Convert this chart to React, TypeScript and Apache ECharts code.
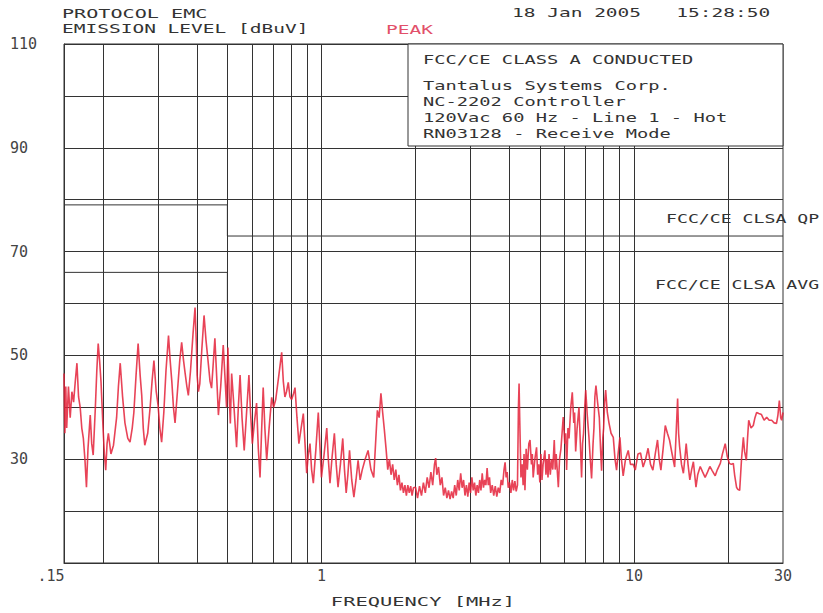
import React, { useEffect, useRef } from "react";
import * as echarts from "echarts";

// ---- data ----
const yTickLabels = [30, 50, 70, 90, 110];
const gridFreqs = [0.2, 0.3, 0.4, 0.5, 0.6, 0.7, 0.8, 0.9, 1, 2, 3, 4, 5, 6, 7, 8, 9, 10, 20];

const qpLimit: [number, number][] = [[0.15, 79], [0.5, 79], [0.5, 73], [30, 73]];
const avLimit: [number, number][] = [[0.15, 66], [0.5, 66], [0.5, 60], [30, 60]];

const traceLow: [number, number][] = [
  [0.150, 46.5], [0.151, 35], [0.152, 44], [0.153, 36], [0.155, 44], [0.157, 38], [0.159, 43], [0.161, 41],
  [0.163, 45], [0.165, 48.5], [0.167, 42], [0.169, 40], [0.171, 36], [0.173, 34], [0.175, 30], [0.177, 24.6],
  [0.179, 32], [0.182, 38.5], [0.184, 33], [0.186, 30.8], [0.189, 40], [0.191, 47], [0.193, 52.3], [0.195, 49],
  [0.197, 45], [0.200, 36], [0.202, 31], [0.204, 27.9], [0.206, 33], [0.208, 35], [0.212, 31], [0.216, 32.7],
  [0.221, 38], [0.224, 44], [0.227, 48.5], [0.231, 42], [0.235, 37], [0.240, 34], [0.244, 33.3], [0.248, 36],
  [0.251, 39], [0.255, 46], [0.259, 52.3], [0.263, 46], [0.266, 42.3], [0.269, 36], [0.272, 32.7], [0.278, 35],
  [0.283, 40], [0.287, 45], [0.291, 49], [0.296, 43], [0.300, 40.4], [0.304, 36], [0.308, 33.3], [0.313, 39],
  [0.318, 47], [0.324, 53.8], [0.328, 49], [0.332, 45], [0.336, 40], [0.340, 37], [0.346, 43], [0.352, 49],
  [0.357, 52.5], [0.362, 49], [0.366, 46.7], [0.371, 44], [0.375, 42.3], [0.381, 47], [0.388, 54], [0.394, 59.2],
  [0.398, 52], [0.400, 46.2], [0.404, 43], [0.408, 44.5], [0.414, 51], [0.421, 57.7], [0.427, 53], [0.434, 48.7],
  [0.440, 45], [0.445, 43.7], [0.450, 48], [0.456, 53.3], [0.462, 46], [0.468, 38.5], [0.476, 44],
];

const traceMid: [number, number][] = [
  [0.485, 52], [0.492, 45], [0.497, 40], [0.502, 51.5], [0.507, 42], [0.511, 36.9], [0.516, 46.5], [0.525, 40],
  [0.535, 32.3], [0.542, 40], [0.549, 46.2], [0.557, 38], [0.566, 31.7], [0.576, 39], [0.586, 46.2], [0.593, 39],
  [0.601, 33], [0.61, 37], [0.620, 40.8], [0.628, 32], [0.636, 26.5], [0.643, 35], [0.651, 43.8], [0.659, 36],
  [0.668, 29.8], [0.680, 36], [0.693, 41.9], [0.703, 40], [0.714, 41.5], [0.73, 46], [0.746, 50.6], [0.755, 45],
  [0.764, 42], [0.773, 43], [0.783, 44.8], [0.793, 42], [0.803, 41.5], [0.813, 42.5], [0.823, 43.8], [0.835, 38],
  [0.847, 33], [0.861, 36], [0.875, 38.8], [0.886, 33], [0.897, 27.3], [0.908, 31], [0.919, 33], [0.930, 28],
  [0.942, 25.4], [0.960, 32], [0.977, 39], [0.988, 33], [1.00, 26.5], [1.02, 31], [1.04, 36], [1.052, 30],
  [1.065, 25.4], [1.08, 30], [1.10, 35], [1.115, 29], [1.13, 24.6], [1.15, 29], [1.17, 34], [1.185, 28],
  [1.20, 23.5], [1.215, 27], [1.23, 31.7], [1.25, 26], [1.27, 22.7], [1.29, 26], [1.31, 29.8], [1.33, 26],
  [1.35, 27.9], [1.38, 30], [1.41, 31.7], [1.44, 28], [1.47, 26.5], [1.49, 33], [1.51, 39.4], [1.53, 38],
  [1.55, 42.7], [1.57, 39], [1.59, 35.6], [1.61, 32], [1.63, 28], [1.65, 30], [1.67, 27], [1.69, 29],
  [1.71, 26], [1.73, 28], [1.75, 25], [1.77, 27], [1.79, 24], [1.81, 25.5], [1.83, 23.5], [1.85, 25],
  [1.87, 23], [1.89, 25], [1.91, 23.5], [1.93, 24.8], [1.95, 23], [1.97, 24.5],
];

const traceHigh: [number, number][] = [
  [2.00, 24.6], [2.03, 22.5], [2.06, 24.8], [2.09, 23], [2.12, 25.5], [2.15, 23.5], [2.18, 26.5], [2.21, 24.5],
  [2.24, 27.5], [2.27, 25], [2.30, 29], [2.32, 30.2], [2.34, 27], [2.37, 28.5], [2.40, 25], [2.43, 26.5],
  [2.46, 23], [2.49, 24.5], [2.52, 22.5], [2.55, 24], [2.58, 22.3], [2.61, 23.8], [2.64, 22.5], [2.67, 25],
  [2.70, 23], [2.73, 26], [2.76, 24], [2.79, 27.3], [2.82, 24.5], [2.85, 26], [2.88, 23], [2.91, 25],
  [2.94, 22.8], [2.97, 25.5], [3.00, 23.5], [3.03, 26.5], [3.06, 24], [3.09, 25.5], [3.12, 23], [3.15, 25],
  [3.18, 23.5], [3.21, 26], [3.24, 24], [3.27, 27.3], [3.30, 24.5], [3.33, 26], [3.36, 25], [3.39, 28.3],
  [3.42, 25], [3.45, 26.5], [3.48, 23.5], [3.52, 25], [3.56, 23], [3.60, 24.8], [3.64, 22.8], [3.68, 24.5],
  [3.72, 23.5], [3.76, 26], [3.80, 25], [3.84, 28], [3.87, 29.4], [3.90, 26.5], [3.93, 27.5], [3.96, 24.5],
  [4.00, 25.5], [4.04, 23.5], [4.08, 26], [4.12, 24], [4.16, 25.8], [4.20, 23.8], [4.24, 25], [4.27, 40],
  [4.29, 44.6], [4.31, 38], [4.35, 26.5], [4.39, 29], [4.42, 25], [4.45, 31], [4.48, 24], [4.52, 32],
  [4.56, 28], [4.61, 33], [4.65, 33.7], [4.70, 29], [4.73, 31], [4.76, 26.5], [4.82, 30], [4.88, 32.3],
  [4.92, 27], [4.96, 29], [5.00, 25.5], [5.04, 31], [5.08, 26], [5.12, 29], [5.19, 31.7], [5.23, 27],
  [5.27, 30], [5.31, 26.5], [5.35, 31], [5.40, 27], [5.45, 30], [5.50, 28], [5.56, 33.7], [5.60, 28],
  [5.64, 31], [5.73, 24.6], [5.78, 30], [5.84, 32], [5.94, 38.1], [6.01, 33], [6.05, 35], [6.09, 27.9],
  [6.15, 36], [6.2, 34], [6.28, 40], [6.35, 42.9], [6.42, 37], [6.46, 39], [6.51, 31.5], [6.58, 36],
  [6.67, 40], [6.74, 33], [6.80, 26.5], [6.85, 33], [6.9, 35], [6.96, 40], [7.01, 43.3], [7.1, 38],
  [7.18, 34.2], [7.25, 30], [7.32, 26.3], [7.40, 33], [7.45, 36], [7.50, 42], [7.56, 44.2], [7.65, 41],
  [7.75, 38], [7.82, 32], [7.88, 27.8], [7.95, 34], [8.0, 36], [8.06, 41], [8.12, 43.3], [8.22, 39],
  [8.32, 37], [8.45, 35], [8.59, 34.2], [8.7, 30], [8.80, 27.9], [8.9, 31], [9.02, 34.2], [9.12, 30],
  [9.24, 26.8], [9.4, 30], [9.59, 31.7], [9.75, 29],
];

const traceTop: [number, number][] = [
  [9.95, 29], [10.1, 27.9], [10.3, 31], [10.5, 31.2], [10.7, 28.5], [10.9, 30], [11.1, 32.1], [11.3, 29],
  [11.5, 27.9], [11.7, 31], [11.9, 33.7], [12.05, 30], [12.2, 27.9], [12.4, 32], [12.6, 36.5], [12.8, 35],
  [13.0, 33.7], [13.25, 31], [13.5, 28.5], [13.65, 35], [13.8, 41.7], [13.9, 35], [14.0, 32.5], [14.2, 29],
  [14.4, 27.3], [14.55, 30], [14.7, 33], [14.9, 29], [15.1, 26], [15.3, 28], [15.5, 29.5], [15.65, 27],
  [15.8, 24.6], [16.0, 27], [16.3, 28.6], [16.6, 27.5], [16.9, 26.5], [17.2, 27.5], [17.5, 28.6], [17.8, 27.8],
  [18.2, 26.8], [18.5, 28], [18.9, 29.2], [19.2, 31], [19.6, 33], [19.9, 30.5], [20.2, 29.2], [20.5, 29],
  [20.8, 29.2], [21.0, 27], [21.3, 24.6], [21.5, 24.2], [21.8, 24], [22.1, 30], [22.4, 34.2], [22.6, 31.5],
  [22.9, 29.8], [23.1, 34], [23.3, 37.5], [23.7, 36], [24.1, 36.5], [24.4, 38], [24.7, 39], [25.1, 38.8],
  [25.6, 38.6], [26.1, 37.5], [26.6, 38.1], [27.1, 37.5], [27.6, 37.5], [28.1, 37], [28.6, 36.9], [28.9, 38.5],
  [29.2, 41.3], [29.5, 38], [29.7, 37.5], [30.0, 39],
];

const headerLeft = ["PROTOCOL EMC", "EMISSION LEVEL [dBuV]"];
const headerMode = "PEAK";
const headerDate = "18 Jan 2005   15:28:50";
const boxTitle = "FCC/CE CLASS A CONDUCTED";
const boxLines = [
  "Tantalus Systems Corp.",
  "NC-2202 Controller",
  "120Vac 60 Hz - Line 1 - Hot",
  "RN03128 - Receive Mode",
];
const qpLabel = "FCC/CE CLSA QP";
const avLabel = "FCC/CE CLSA AVG";
const xTitle = "FREQUENCY [MHz]";

const MONO = "'DejaVu Sans Mono', 'Liberation Mono', monospace";
const INK = "#333";

function txt(text: string, x: number, y: number, sx: number, opts: any = {}) {
  return {
    type: "text",
    x,
    y,
    scaleX: sx,
    z: 60,
    silent: true,
    style: {
      text,
      fill: opts.fill || INK,
      font: `${opts.size || 13}px ${MONO}`,
      textAlign: opts.align || "left",
      textVerticalAlign: "middle",
      verticalAlign: "middle",
    },
  };
}

export default function App() {
  const ref = useRef<HTMLDivElement>(null);
  useEffect(() => {
    if (!ref.current) return;
    const chart = echarts.init(ref.current, undefined, { renderer: "svg" });
    const trace = [...traceLow, ...traceMid, ...traceHigh, ...traceTop];
    const option: any = {
      animation: false,
      backgroundColor: "#fff",
      grid: {
        left: 64,
        top: 44,
        width: 719,
        height: 519,
        show: true,
        borderColor: INK,
        borderWidth: 1,
        backgroundColor: "transparent",
      },
      xAxis: {
        type: "log",
        logBase: 10,
        min: 0.15,
        max: 30,
        axisLine: { show: true, lineStyle: { color: INK, width: 1 } },
        axisTick: { show: false },
        splitLine: { show: false },
        axisLabel: {
          showMinLabel: true,
          showMaxLabel: true,
          margin: 5,
          color: "#444",
          fontFamily: MONO,
          fontSize: 15,
          formatter: (v: number) =>
            Math.abs(v - 0.15) < 1e-6 ? "{a|.15}" : String(Math.round(v)),
          rich: { a: { fontFamily: MONO, fontSize: 15, color: "#444", padding: [0, 26, 0, 0] } },
        },
      },
      yAxis: {
        type: "value",
        min: 10,
        max: 110,
        interval: 10,
        axisLine: { show: true, lineStyle: { color: INK, width: 1 } },
        axisTick: { show: false },
        splitLine: { show: true, lineStyle: { color: INK, width: 1 } },
        axisLabel: {
          align: "left",
          margin: 54,
          color: "#444",
          fontFamily: MONO,
          fontSize: 15,
          padding: [5, 0, 0, 0],
          formatter: (v: number) => (yTickLabels.includes(v) ? String(v) : ""),
        },
      },
      series: [
        {
          type: "line",
          name: "QP limit",
          data: qpLimit,
          symbol: "none",
          silent: true,
          z: 2,
          lineStyle: { color: INK, width: 1 },
          markLine: {
            silent: true,
            symbol: ["none", "none"],
            label: { show: false },
            lineStyle: { color: INK, width: 1, type: "solid" },
            data: gridFreqs.map((f) => ({ xAxis: f })),
          },
        },
        {
          type: "line",
          name: "AV limit",
          data: avLimit,
          symbol: "none",
          silent: true,
          z: 2,
          lineStyle: { color: INK, width: 1 },
        },
        {
          type: "line",
          name: "Peak",
          data: trace,
          symbol: "none",
          silent: true,
          z: 5,
          lineStyle: { color: "#e4223a", width: 1.6, opacity: 0.85 },
        },
      ],
      graphic: [
        {
          type: "rect",
          z: 50,
          silent: true,
          shape: { x: 408, y: 44, width: 375, height: 102 },
          style: { fill: "#fff", stroke: INK, lineWidth: 1 },
        },
        txt(headerLeft[0], 62, 13, 1.55),
        txt(headerLeft[1], 62, 29, 1.5),
        txt(headerMode, 386, 30, 1.5, { fill: "#e2506a" }),
        txt(headerDate, 512, 13, 1.5),
        txt(boxTitle, 423, 60, 1.44),
        txt(boxLines[0], 423, 86, 1.44),
        txt(boxLines[1], 423, 102, 1.44),
        txt(boxLines[2], 423, 118, 1.44),
        txt(boxLines[3], 423, 134, 1.44),
        txt(qpLabel, 666, 218, 1.4),
        txt(avLabel, 655, 284, 1.4),
        txt(xTitle, 423, 601, 1.57, { align: "center" }),
      ],
    };
    chart.setOption(option);
    return () => chart.dispose();
  }, []);
  return (
    <div
      ref={ref}
      style={{ position: "absolute", left: 0, top: 0, width: 823, height: 613 }}
    />
  );
}
